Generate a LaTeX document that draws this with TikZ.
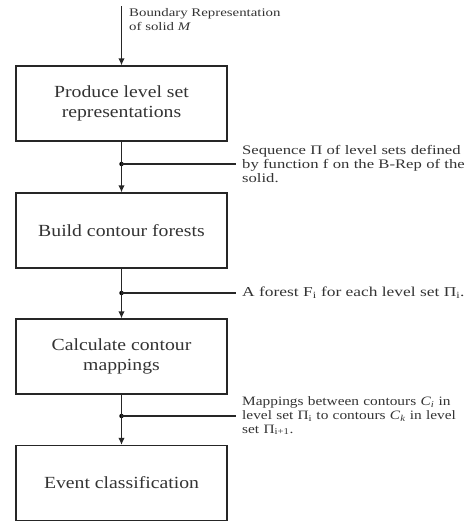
\documentclass[tikz,border=0pt]{standalone}
\usepackage{fontspec}
\setmainfont{Liberation Serif}[FakeStretch=1.16]
\newfontfamily\notefont{Liberation Serif}[FakeStretch=1.28]
\newfontfamily\notefontn{Liberation Serif}[FakeStretch=1.2]
\usetikzlibrary{arrows.meta}
\newcommand\fullline[1]{\hbox to 221pt{#1}}
\tikzset{
  procbox/.style={draw=black!85, line width=1.3pt, minimum width=211pt, minimum height=75pt,
    align=center, font=\fontsize{17}{20}\selectfont, text=black!80, inner sep=0pt},
  flow/.style={draw=black!85, line width=1.3pt, -{Latex[length=7pt,width=6.5pt]}},
  tap/.style={draw=black!85, line width=1.1pt},
  note/.style={anchor=west, font=\notefont\fontsize{13}{13.6}\selectfont, text=black!80, inner sep=0pt},
  jdot/.style={circle, fill=black, inner sep=0pt, minimum size=4.5pt}
}
\begin{document}
\begin{tikzpicture}[x=1pt,y=-1pt]
\useasboundingbox (0,0) rectangle (470,522);
\coordinate (start) at (121.5,6);
\node[note, font=\notefont\fontsize{11.6}{13.6}\selectfont] (tin) at (129,21) {\begin{tabular}{@{}l@{}}Boundary Representation\\[0pt] of solid \textit{M}\end{tabular}};
\node[procbox] (b1) at (121.5,103.5) {Produce level set\\representations};
\node[procbox] (b2) at (121.5,230.5) {Build contour forests};
\node[procbox] (b3) at (121.5,356.5) {Calculate contour\\mappings};
\node[procbox] (b4) at (121.5,483) {Event classification};
\node[jdot] (j1) at (121.5,164) {};
\node[jdot] (j2) at (121.5,293) {};
\node[jdot] (j3) at (121.5,416) {};
\coordinate (e1) at (236,164);
\coordinate (e2) at (236,293);
\coordinate (e3) at (236,416);
\draw[flow] (start) -- (b1);
\draw[flow] (b1) -- (b2);
\draw[flow] (b2) -- (b3);
\draw[flow] (b3) -- (b4);
\draw[tap] (j1.center) -- (e1);
\draw[tap] (j2.center) -- (e2);
\draw[tap] (j3.center) -- (e3);
\node[note, text width=221pt, align=left] (t1) at (242,164) {\fullline{Sequence \char"03A0\ of level sets defined}\par\fullline{by function f on the B-Rep of the}\par solid.};
\node[note, font=\notefont\fontsize{13.6}{13.6}\selectfont] (t2) at (242,293) {A forest F\textsubscript{i} for each level set \char"03A0\textsubscript{i}.};
\node[note, font=\notefontn\fontsize{12.8}{13.6}\selectfont, text width=221pt, align=left] (t3) at (242,416) {\fullline{Mappings between contours \textit{C}\textsubscript{\textit{i}} in}\par\fullline{level set \char"03A0\textsubscript{i} to contours \textit{C}\textsubscript{\textit{k}} in level}\par set \char"03A0\textsubscript{i+1}.};
\end{tikzpicture}
\end{document}
